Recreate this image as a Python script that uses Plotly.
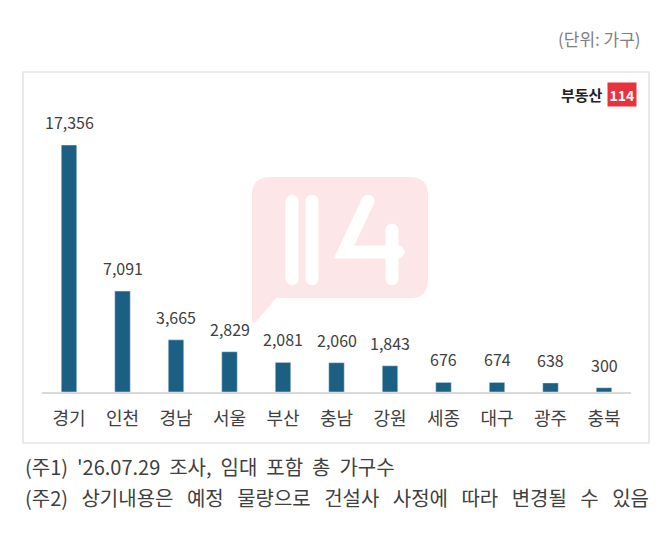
import plotly.graph_objects as go

regions = ["경기", "인천", "경남", "서울", "부산", "충남", "강원", "세종", "대구", "광주", "충북"]
households = [17356, 7091, 3665, 2829, 2081, 2060, 1843, 676, 674, 638, 300]

notes = [
    "(주1) '26.07.29 조사, 임대 포함 총 가구수",
    "(주2) 상기내용은 예정 물량으로 건설사 사정에 따라 변경될 수 있음",
]
note_gaps = [2, 3]  # non-breaking spaces per word gap

W, H = 670, 555
OFF = 8  # page body margin
FONT = "Noto Sans CJK KR, Noto Sans, sans-serif"
BAR = "#1b5f82"
TXT = "#404040"


def px(x):
    return (x - OFF) / W


def py(y):
    return 1 - (y - OFF) / H


fig = go.Figure()
fig.add_trace(go.Bar(x=regions, y=households, marker_color=BAR, width=0.29))

shapes = []
# outer box
shapes.append(dict(type="rect", xref="paper", yref="paper",
                   x0=px(23), x1=px(649), y0=py(443), y1=py(72),
                   line=dict(color="#d9d9d9", width=1.2), layer="below"))

# watermark bubble
L, R, T, B, r = 252, 428, 177, 298, 18
bubble = (f"M{px(L+r)},{py(T)} L{px(R-r)},{py(T)} "
          f"Q{px(R)},{py(T)} {px(R)},{py(T+r)} L{px(R)},{py(B-r)} "
          f"Q{px(R)},{py(B)} {px(R-r)},{py(B)} L{px(276)},{py(B)} "
          f"L{px(256)},{py(322)} Q{px(252)},{py(325)} {px(L)},{py(318)} "
          f"L{px(L)},{py(T+r)} Q{px(L)},{py(T)} {px(L+r)},{py(T)} Z")
shapes.append(dict(type="path", xref="paper", yref="paper", path=bubble,
                   fillcolor="#fde6e8", line=dict(width=0), layer="below"))


def stroke(pts, w=13):
    # white rounded stroke: thick line plus round ends
    path = "M" + " L".join(f"{px(a)},{py(b)}" for a, b in pts)
    shapes.append(dict(type="path", xref="paper", yref="paper", path=path,
                       line=dict(color="white", width=w), layer="below"))
    for a, b in (pts[0], pts[-1]):
        shapes.append(dict(type="circle", xref="paper", yref="paper",
                           x0=px(a - w / 2), x1=px(a + w / 2),
                           y0=py(b + w / 2), y1=py(b - w / 2),
                           fillcolor="white", line=dict(width=0), layer="below"))


stroke([(292, 201), (292, 279)])
stroke([(312, 201), (312, 279)])
stroke([(368, 201), (344, 252), (398, 252)])
stroke([(392, 230), (392, 279)])

fig.update_layout(shapes=shapes)

ann = []
for reg, v in zip(regions, households):
    ann.append(dict(text=f"{v:,}", x=reg, y=v, xref="x", yref="y",
                    xanchor="center", yanchor="bottom", yshift=9, showarrow=False,
                    font=dict(size=16, color=TXT, family=FONT)))
ann.append(dict(text="(단위: 가구)", x=px(643), y=py(38), xanchor="right", yanchor="middle",
                font=dict(size=17, color="#7f7f7f", family=FONT)))
ann.append(dict(text="<b>부동산</b>", x=px(605), y=py(95), xanchor="right", yanchor="middle",
                font=dict(size=15, color="#222222", family=FONT)))
ann.append(dict(text="<b>114</b>", x=px(607), y=py(95), xanchor="left", yanchor="middle",
                bgcolor="#e8323c", borderpad=1.5,
                font=dict(size=14, color="white", family=FONT)))
for i, (n, g) in enumerate(zip(notes, note_gaps)):
    ann.append(dict(text=n.replace(" ", "\u00a0" * g), x=px(23), y=py(466 + 31 * i),
                    xanchor="left", yanchor="middle",
                    font=dict(size=20, color=TXT, family=FONT)))
for a in ann:
    a.setdefault("xref", "paper")
    a.setdefault("yref", "paper")
    a["showarrow"] = False

fig.update_layout(
    annotations=ann,
    width=W, height=H,
    margin=dict(l=0, r=0, t=0, b=0),
    plot_bgcolor="rgba(0,0,0,0)", paper_bgcolor="white",
    showlegend=False,
    xaxis=dict(domain=[px(42.25), px(630.75)], showline=True, linecolor="#d9d9d9", linewidth=1.5,
               ticks="", ticklabelstandoff=10,
               tickfont=dict(size=18, color=TXT, family=FONT), fixedrange=True),
    yaxis=dict(domain=[py(392), py(100)], range=[0, 20520], visible=False, fixedrange=True),
)

fig.write_html("out.html")
